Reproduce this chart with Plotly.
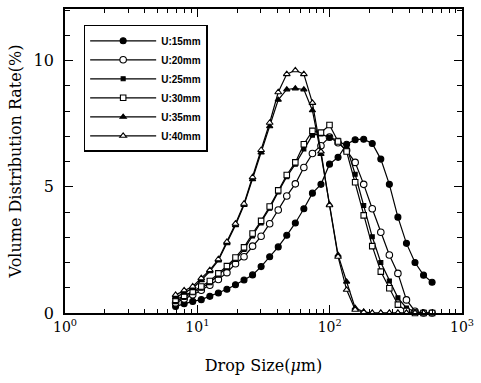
import plotly.graph_objects as go

# Drop size bins (um), log-spaced
drop_size = [6.85, 7.95, 9.23, 10.71, 12.43, 14.42, 16.73, 19.42, 22.53, 26.15,
             30.34, 35.21, 40.86, 47.41, 55.02, 63.83, 74.07, 85.96, 99.72, 115.7,
             134.3, 155.8, 180.8, 209.8, 243.5, 282.5, 327.8, 380.4, 441.4, 512.2, 594.3]

# Volume distribution rate (%) for each nozzle distance U
u15 = [0.26, 0.37, 0.46, 0.53, 0.66, 0.79, 0.94, 1.12, 1.31, 1.51, 1.84, 2.23, 2.62, 3.08,
       3.57, 4.13, 4.75, 5.10, 5.90, 6.17, 6.69, 6.87, 6.89, 6.72, 6.10, 5.10, 3.80, 2.76,
       2.00, 1.50, 1.22]
u20 = [0.40, 0.55, 0.72, 0.90, 1.10, 1.33, 1.60, 1.95, 2.23, 2.65, 3.04, 3.54, 4.08, 4.64,
       5.12, 5.77, 6.32, 6.63, 6.97, 6.75, 6.45, 5.97, 5.10, 4.13, 3.20, 2.30, 1.57, 0.52,
       0.07, 0.0, 0.0]
u25 = [0.45, 0.62, 0.80, 0.98, 1.20, 1.50, 1.80, 2.12, 2.52, 3.05, 3.57, 4.15, 4.80, 5.40,
       5.90, 6.50, 7.05, 7.10, 6.95, 6.85, 6.60, 5.50, 4.26, 3.02, 2.00, 1.27, 0.60, 0.20,
       0.05, 0.0, 0.0]
u30 = [0.52, 0.68, 0.85, 1.05, 1.27, 1.57, 1.86, 2.20, 2.60, 3.15, 3.65, 4.22, 4.86, 5.47,
       5.97, 6.69, 7.22, 7.15, 7.45, 6.80, 6.40, 5.18, 3.87, 2.65, 1.64, 0.98, 0.33, 0.08,
       0.0, 0.0, 0.0]
u35 = [0.62, 0.80, 0.98, 1.30, 1.65, 2.08, 2.76, 3.48, 4.28, 5.30, 6.36, 7.40, 8.45, 8.86,
       8.90, 8.86, 8.03, 6.30, 4.30, 2.30, 1.24, 0.20, 0.05, 0.0, 0.0, 0.0, 0.0, 0.0,
       0.0, 0.0]
u40 = [0.72, 0.90, 1.05, 1.38, 1.70, 2.13, 2.82, 3.54, 4.33, 5.38, 6.46, 7.54, 8.75, 9.47,
       9.62, 9.47, 8.33, 6.40, 4.27, 2.23, 0.92, 0.13, 0.03, 0.0, 0.0, 0.0, 0.0, 0.0,
       0.0, 0.0]

series_names = ["U:15mm", "U:20mm", "U:25mm", "U:30mm", "U:35mm", "U:40mm"]
series_values = [u15, u20, u25, u30, u35, u40]

x_tickvals = [1, 10, 100, 1000]
x_ticktext = ["10<sup>0</sup>", "10<sup>1</sup>", "10<sup>2</sup>", "10<sup>3</sup>"]
y_tickvals = [0, 5, 10]

# marker style per series: (symbol, size, fill)
styles = [
    ("circle", 6, "black"),
    ("circle", 6.5, "white"),
    ("square", 4, "black"),
    ("square", 5.5, "white"),
    ("triangle-up", 5.5, "black"),
    ("triangle-up", 6, "white"),
]

fig = go.Figure()
for name, vals, (sym, sz, fill) in zip(series_names, series_values, styles):
    fig.add_trace(go.Scatter(
        x=drop_size[:len(vals)], y=vals, name=name, mode="lines+markers",
        line=dict(color="black", width=1.2),
        marker=dict(symbol=sym, size=sz, color=fill, line=dict(color="black", width=1.1)),
        cliponaxis=False,
    ))

serif = "DejaVu Serif"
fig.update_layout(
    width=481, height=383,
    margin=dict(l=65, r=14, t=7, b=70),
    paper_bgcolor="white", plot_bgcolor="white",
    showlegend=True,
    legend=dict(
        x=0.047, y=0.948, xanchor="left", yanchor="top",
        bordercolor="black", borderwidth=1.5, bgcolor="white",
        font=dict(family="Liberation Sans Narrow, Liberation Sans", size=10, color="black",
                  weight="bold"),
        tracegroupgap=0, itemwidth=66,
    ),
    xaxis=dict(
        type="log", range=[0, 3],
        tickvals=x_tickvals, ticktext=x_ticktext,
        ticks="inside", ticklen=8, tickwidth=1.2, tickcolor="black",
        minor=dict(ticks="inside", ticklen=4, tickwidth=1, tickcolor="black",
                   dtick="D1", showgrid=False),
        showline=True, linecolor="black", linewidth=1.8, mirror="allticks",
        showgrid=False, zeroline=False,
        tickfont=dict(family=serif, size=14, color="black"),
        title=dict(text="Drop Size(<i>μ</i>m)", font=dict(family=serif, size=16, color="black"),
                   standoff=26),
    ),
    yaxis=dict(
        range=[0, 12.05],
        tickvals=y_tickvals,
        ticks="inside", ticklen=8, tickwidth=1.2, tickcolor="black",
        minor=dict(ticks="inside", ticklen=5, tickwidth=1, tickcolor="black",
                   dtick=1, showgrid=False),
        showline=True, linecolor="black", linewidth=1.8, mirror="allticks",
        showgrid=False, zeroline=False,
        ticklabelstandoff=6,
        tickfont=dict(family=serif, size=16, color="black"),
        title=dict(text="Volume Distribution Rate(%)", font=dict(family=serif, size=16, color="black"),
                   standoff=8),
    ),
)

fig.write_html("out.html")
